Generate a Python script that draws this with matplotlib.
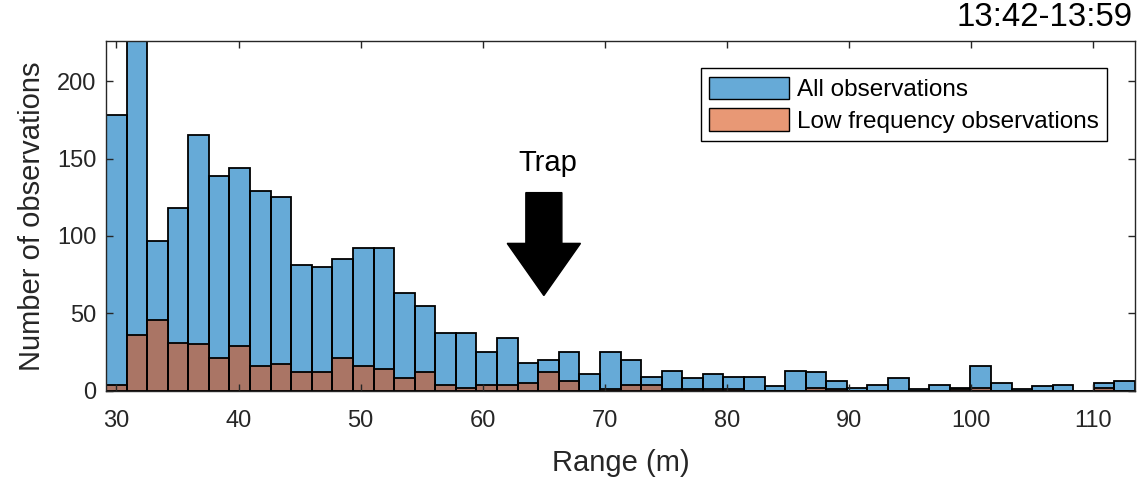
import numpy as np
import matplotlib
matplotlib.use("Agg")
import matplotlib.pyplot as plt
from matplotlib.patches import Patch

# ---- data ----
bin_start = 29.15
bin_end = 113.4
n_bins = 50
all_counts = [178, 240, 97, 118, 165, 139, 144, 129, 125, 81,
              80, 85, 92, 92, 63, 55, 37, 37, 25, 34,
              18, 20, 25, 11, 25, 20, 9, 13, 8, 11,
              9, 9, 3, 13, 12, 6, 2, 4, 8, 1,
              4, 2, 16, 5, 1, 3, 4, 0, 5, 6]
low_counts = [4, 36, 46, 31, 30, 21, 29, 16, 17, 12,
              12, 21, 16, 14, 8, 12, 4, 2, 4, 4,
              5, 12, 6, 0, 1, 4, 4, 1, 1, 1,
              1, 0, 0, 0, 2, 1, 0, 0, 0, 0,
              0, 1, 2, 0, 0, 0, 0, 0, 2, 0]
series_labels = ["All observations", "Low frequency observations"]
x_ticks = [30, 40, 50, 60, 70, 80, 90, 100, 110]
y_ticks = [0, 50, 100, 150, 200]
title_text = "13:42-13:59"
trap_range = 65.0
trap_label = "Trap"

edges = np.linspace(bin_start, bin_end, n_bins + 1)
widths = np.diff(edges)

plt.rcParams['font.family'] = ['Liberation Sans', 'DejaVu Sans']
fig = plt.figure(figsize=(11.4, 4.84), dpi=100)
ax = fig.add_axes([106/1140, 1 - 390.7/484, (1135-106)/1140, (390.7-41)/484])

blue = (0.0, 0.447, 0.741)
orange = (0.85, 0.325, 0.098)
ax.bar(edges[:-1], all_counts, width=widths, align='edge', color=blue, alpha=0.6,
       edgecolor='none')
ax.bar(edges[:-1], all_counts, width=widths, align='edge', fill=False,
       edgecolor='black', linewidth=1.3)
ax.bar(edges[:-1], low_counts, width=widths, align='edge', color=orange, alpha=0.6,
       edgecolor='none')
ax.bar(edges[:-1], low_counts, width=widths, align='edge', fill=False,
       edgecolor='black', linewidth=1.3)

ax.set_xlim(bin_start, bin_end)
ax.set_ylim(0, 226)
ax.set_xticks(x_ticks)
ax.set_yticks(y_ticks)
ax.tick_params(direction='in', top=True, right=True, length=5, width=1,
               labelsize=17, colors='#262626')
ax.tick_params(axis='x', pad=14)
ax.tick_params(axis='y', pad=7)
for s in ax.spines.values():
    s.set_color('#262626')
    s.set_linewidth(1)
ax.set_xlabel("Range (m)", fontsize=21, color='#262626', labelpad=12)
ax.set_ylabel("Number of observations", fontsize=21, color='#262626', labelpad=8)
fig.text(1133/1140, 1 - 18/484, title_text, ha='right', va='center', fontsize=23.8, color='black')

# arrow marking trap
ax.arrow(trap_range, 128, 0, -66.5, width=2.95, head_width=6.0, head_length=33.7,
         length_includes_head=True, color='black', zorder=5)
ax.text(trap_range + 0.3, 147, trap_label, ha='center', va='center', fontsize=21, color='black')

handles = [Patch(facecolor=(*blue, 0.6), edgecolor='black'),
           Patch(facecolor=(*orange, 0.6), edgecolor='black')]
leg = ax.legend(handles, series_labels, loc='upper right',
                bbox_to_anchor=((1107-106)/(1135-106), 1 - (68-41)/(390.7-41)),
                borderaxespad=0, fontsize=17.5, fancybox=False, framealpha=1,
                edgecolor='black', handlelength=3.3, handleheight=1.05,
                handletextpad=0.3, borderpad=0.35, labelspacing=0.3)
leg.get_frame().set_linewidth(1)

fig.savefig("out.png", dpi=100)
